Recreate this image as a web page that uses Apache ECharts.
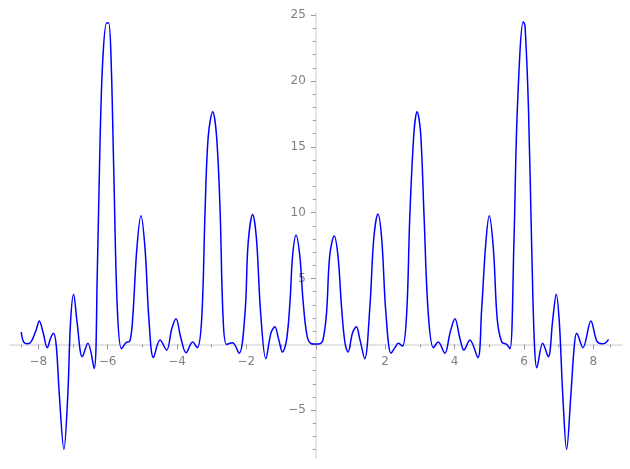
<!DOCTYPE html>
<html>
<head>
<meta charset="utf-8">
<script src="https://cdn.jsdelivr.net/npm/echarts@6/dist/echarts.min.js"></script>
<style>
html,body{margin:0;padding:0;background:#fff;}
#chart{width:630px;height:469px;}
</style>
</head>
<body>
<div id="chart"></div>
<script>
// x positions of the sampled curve
var xValues = [
  -8.49,-8.42,-8.30,-8.19,-8.06,-7.97,-7.86,-7.74,-7.64,-7.56,-7.48,-7.39,-7.26,-7.15,-7.07,-6.98,-6.88,-6.73,-6.57,-6.39,
  -6.30,-6.22,-6.14,-6.03,-5.97,-5.90,-5.82,-5.72,-5.60,-5.47,-5.36,-5.28,-5.16,-5.04,-4.92,-4.81,-4.68,-4.49,-4.30,-4.15,
  -4.03,-3.89,-3.74,-3.55,-3.42,-3.29,-3.19,-3.10,-2.97,-2.86,-2.76,-2.67,-2.57,-2.40,-2.21,-2.04,-1.95,-1.82,-1.71,-1.59,
  -1.44,-1.29,-1.18,-1.07,-0.96,-0.84,-0.74,-0.67,-0.57,-0.46,-0.37,-0.25,-0.12,0.00,
  0.12,0.21,0.31,0.40,0.53,0.64,0.74,0.84,0.93,1.06,1.17,1.27,1.41,1.56,1.67,1.79,1.90,2.02,2.17,2.28,
  2.38,2.50,2.62,2.71,2.83,2.92,3.02,3.12,3.24,3.39,3.53,3.72,3.87,4.01,4.16,4.27,4.44,4.67,4.78,4.90,
  5.00,5.12,5.23,5.36,5.50,5.60,5.71,5.81,5.98,6.03,6.13,6.22,6.30,6.37,6.54,6.70,6.83,6.93,7.02,7.12,
  7.23,7.35,7.45,7.52,7.70,7.93,8.10,8.25,8.34,8.44
];
// y values of the sampled curve
var yValues = [
  0.94,0.18,0.05,0.27,1.10,1.77,0.90,-0.25,0.50,0.84,-0.13,-3.93,-7.98,-3.93,1.65,3.80,1.65,-0.94,0.08,-1.83,
  5.20,15.3,21.6,24.4,24.4,21.6,12.8,2.67,-0.33,0.13,0.25,1.90,7.20,9.76,7.20,1.90,-1.00,0.33,-0.44,1.20,
  1.95,0.50,-0.63,0.18,-0.25,1.90,10.3,15.8,17.67,15.8,10.3,1.90,0.00,0.13,-0.68,2.40,7.70,9.87,8.00,2.40,
  -1.09,0.89,1.34,0.38,-0.58,0.38,3.40,6.70,8.28,6.70,3.40,0.63,0.05,0.03,
  0.05,0.38,2.40,6.70,8.24,6.70,2.90,0.13,-0.58,0.89,1.34,0.38,-1.09,2.90,8.00,9.90,8.00,2.40,-0.68,-0.25,
  0.08,-0.13,2.40,9.76,16.1,17.67,16.1,9.76,2.40,-0.25,0.18,-0.68,0.89,1.95,0.38,-0.43,0.33,-1.01,2.66,7.70,
  9.76,7.20,1.90,0.18,0.00,-0.33,7.70,17.9,24.5,24.2,17.9,7.70,0.10,-1.77,0.08,-0.94,1.90,3.80,1.65,-3.93,
  -7.98,-3.93,-0.13,0.84,-0.25,1.77,0.25,0.05,0.10,0.38
];
// tick labels
var xTickLabels = [-8,-6,-4,-2,2,4,6,8];
var yTickLabels = [-5,5,10,15,20,25];
var xMajorTicks = [-8,-6,-4,-2,0,2,4,6,8];
var xMinorTicks = [-8.49,-7,-5,-3,-1,1,3,5,7,8.49];
var yMajorTicks = [-5,0,5,10,15,20,25];
var yMinorTicks = [-8,-7,-6,-4,-3,-2,-1,1,2,3,4,6,7,8,9,11,12,13,14,16,17,18,19,21,22,23,24];

var X_MIN = -8.82, X_MAX = 8.82, Y_MIN = -8.65, Y_MAX = 25.15;
var GRID = {left:9.8, top:13.2, width:612, height:445.1};

// axes cross at the origin: shift the axes from the grid edge into place
var xAxisOffset = -GRID.height * (0 - Y_MIN) / (Y_MAX - Y_MIN);
var yAxisOffset = -GRID.width * (0 - X_MIN) / (X_MAX - X_MIN);

var points = xValues.map(function(x, i){ return [x, yValues[i]]; });

function fmt(v){ return String(v).replace('-', '\u2212'); }

var labelStyle = {color:'#808080', fontFamily:'DejaVu Sans', fontSize:12};
function gridOpt(){ return {left:GRID.left, top:GRID.top, width:GRID.width, height:GRID.height, containLabel:false, outerBoundsMode:'none'}; }
var tickLine = {color:'#9a9a9a', width:1};

var chart = echarts.init(document.getElementById('chart'), null, {renderer:'canvas'});
chart.setOption({
  animation:false,
  backgroundColor:'#ffffff',
  grid:[gridOpt(), gridOpt()],
  xAxis:[{
    type:'value', gridIndex:0, min:X_MIN, max:X_MAX, position:'bottom', offset:xAxisOffset,
    splitLine:{show:false},
    axisLine:{show:true, onZero:false, lineStyle:{color:'#dcdcdc', width:1.5}},
    axisTick:{show:true, customValues:xMajorTicks, length:5, inside:false, lineStyle:tickLine},
    axisLabel:Object.assign({show:true, customValues:xTickLabels, margin:11, formatter:fmt}, labelStyle)
  },{
    type:'value', gridIndex:1, min:X_MIN, max:X_MAX, position:'bottom', offset:xAxisOffset,
    splitLine:{show:false},
    axisLine:{show:false, onZero:false},
    axisTick:{show:true, customValues:xMinorTicks, length:3, inside:false, lineStyle:tickLine},
    axisLabel:{show:false}
  }],
  yAxis:[{
    type:'value', gridIndex:0, min:Y_MIN, max:Y_MAX, position:'left', offset:yAxisOffset,
    splitLine:{show:false},
    axisLine:{show:true, onZero:false, lineStyle:{color:'#dcdcdc', width:1.5}},
    axisTick:{show:true, customValues:yMajorTicks, length:5, inside:false, lineStyle:tickLine},
    axisLabel:Object.assign({show:true, customValues:yTickLabels, margin:10, formatter:fmt, padding:[4,0,0,0]}, labelStyle)
  },{
    type:'value', gridIndex:1, min:Y_MIN, max:Y_MAX, position:'left', offset:yAxisOffset,
    splitLine:{show:false},
    axisLine:{show:false, onZero:false},
    axisTick:{show:true, customValues:yMinorTicks, length:3, inside:false, lineStyle:tickLine},
    axisLabel:{show:false}
  }],
  series:[{
    type:'line', xAxisIndex:0, yAxisIndex:0,
    data:points, showSymbol:false, symbol:'none', smooth:0.35,
    lineStyle:{color:'#0000ff', width:1.5}
  }]
});
</script>
</body>
</html>
